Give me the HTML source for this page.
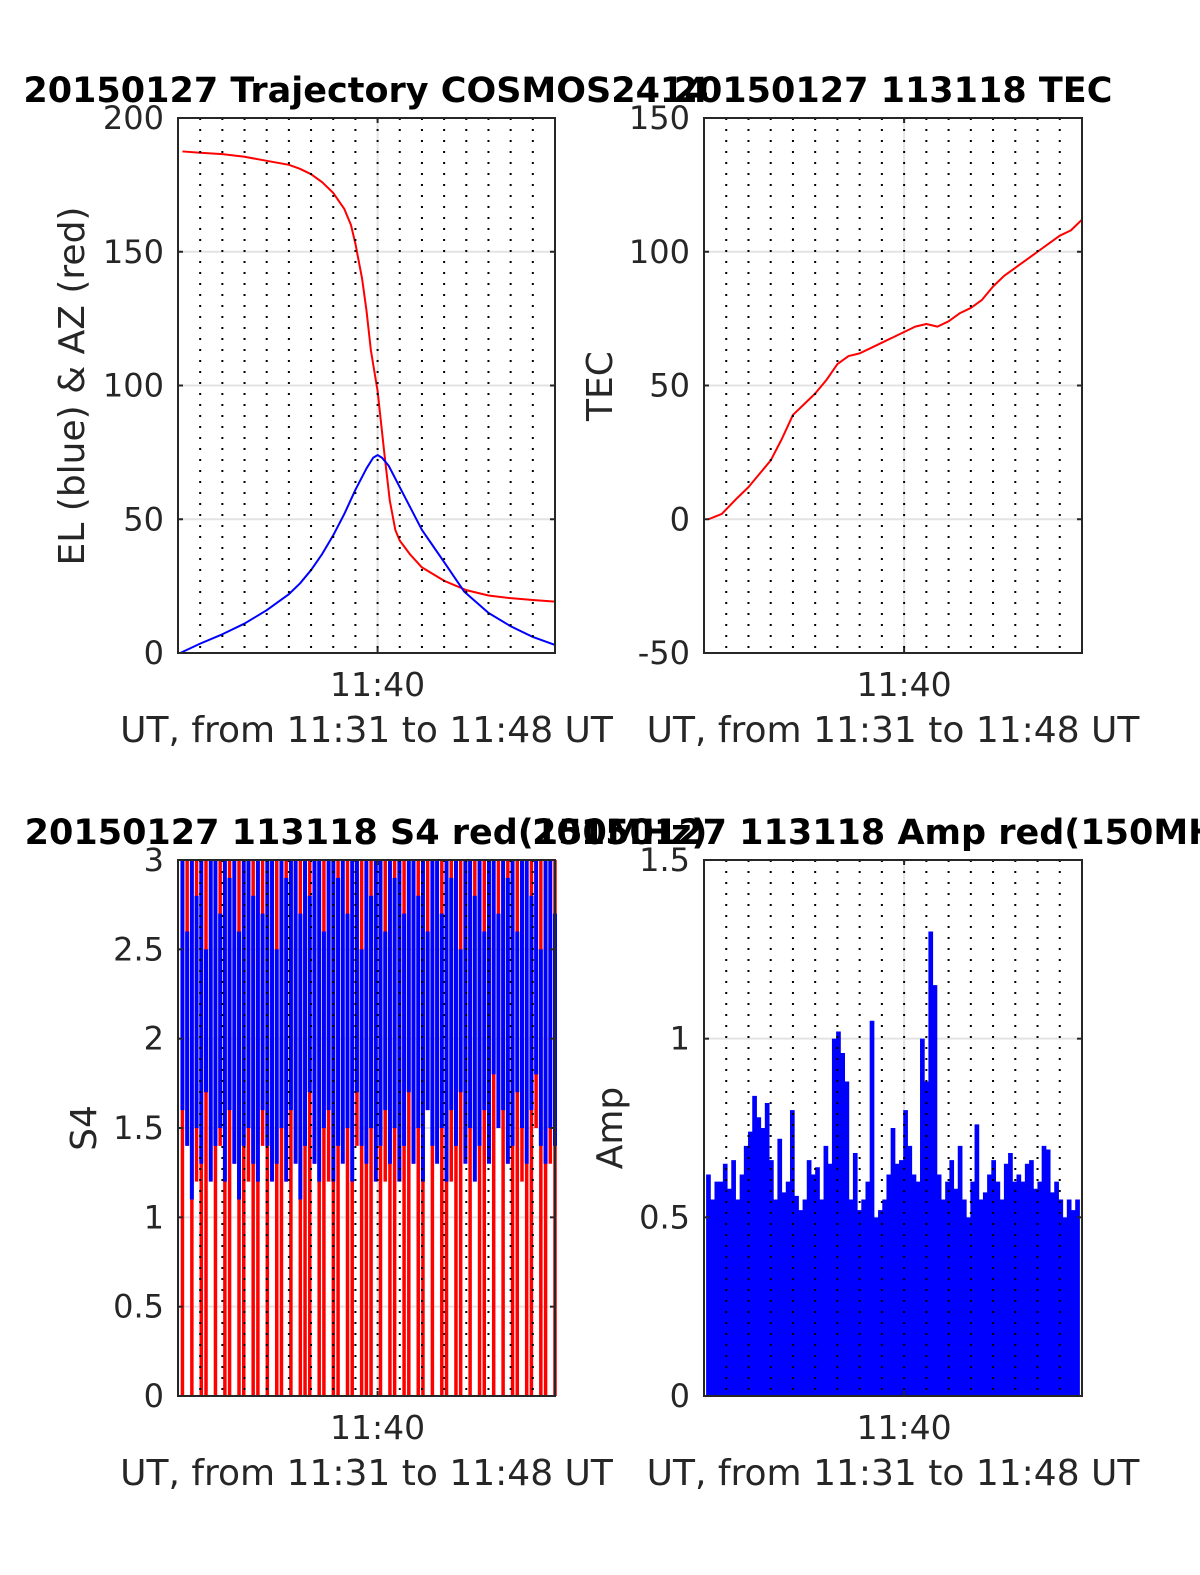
<!DOCTYPE html>
<html><head><meta charset="utf-8"><style>
html,body{margin:0;padding:0;background:#fff;}
svg{display:block;font-family:"DejaVu Sans","Liberation Sans",sans-serif;}
</style></head><body>
<svg id="fig" width="1200" height="1575" viewBox="0 0 1200 1575" xmlns="http://www.w3.org/2000/svg"></svg>
<script>
// ---- data (time in minutes after 11:31) ----
const azT = [0.2,1,2,3,4,5,5.5,6,6.5,7,7.5,7.8,8,8.3,8.5,8.7,9,9.3,9.55,9.8,10,10.45,11,12,13,14,15,16,17];
const azV = [187.5,187,186.5,185.5,184,182.5,181,179,176,172,166,160,153,140,128,113,98,75,57,46,42,37,32,27,23.5,21.5,20.5,19.8,19.2];
const elT = [0.1,1,2,3,4,5,5.5,6,6.5,7,7.5,8,8.5,8.8,9,9.2,9.5,10,10.5,11,11.5,12,12.9,14,15,16,17];
const elV = [0,3.5,7,11,16,22,26,31,37,44,52,61,69,73,74,73,70,62,54,46,40,34,23,15,10,6,3];
const tecT = [0.2,0.8,1.5,2,2.5,3,3.5,4,4.5,5,5.5,6,6.5,7,7.5,8,8.5,9,9.5,10,10.5,11,11.5,12,12.5,13,13.5,14,14.5,15,15.5,16,16.5,17];
const tecV = [0,2,8,12,17,22,30,39,43,47,52,58,61,62,64,66,68,70,72,73,72,74,77,79,82,87,91,94,97,100,103,106,108,112];
const s4RedLow = [0,1.5,0,1.2,0,0,1.6,0,1.4,0,0,1.3,0,0,1.2,0,0,1.4,0,1.3,0,0,1.2,0,1.5,0,0,0,1.3,0,0,1.2,0,0,1.6,0,0,1.4,0,0,0,1.3,0,1.2,0,0,1.5,0,0,1.3,0,0,1.6,0,1.4,0,0,1.2,0,0,1.5,0,1.3,0,0,1.4,0,1.6,0,1.3,0,0,1.2,0,0,1.5,0,0,1.3,0];
const s4BlueLow = [1.6,1.4,1.1,1.5,1.3,1.7,1.2,1.4,1.5,1.2,1.6,1.3,1.1,1.4,1.5,1.3,1.2,1.6,1.4,1.2,1.3,1.5,1.2,1.6,1.3,1.1,1.4,1.7,1.3,1.2,1.5,1.6,1.2,1.4,1.3,1.5,1.2,1.7,1.4,1.3,1.5,1.2,1.4,1.6,1.3,1.5,1.2,1.4,1.7,1.3,1.5,1.2,1.6,1.4,1.3,1.5,1.2,1.6,1.4,1.7,1.3,1.5,1.2,1.4,1.6,1.3,1.8,1.5,1.6,1.3,1.4,1.7,1.5,1.3,1.6,1.8,1.4,1.3,1.5,1.4];
const s4BlueHigh = [3,2.6,3,2.8,3,2.5,3,3,2.7,3,2.9,3,2.6,3,3,2.8,3,2.7,3,3,2.5,3,2.9,3,3,2.7,3,2.8,3,3,2.6,3,3,2.9,3,2.7,3,3,2.5,3,2.8,3,3,2.6,3,2.9,3,2.7,3,3,2.8,3,2.6,3,3,2.7,3,2.9,3,2.5,3,3,2.8,3,2.6,3,3,2.7,3,2.9,3,2.6,3,3,2.8,3,2.5,3,3,2.7];
const ampV = [0.62,0.55,0.6,0.6,0.65,0.58,0.66,0.55,0.62,0.7,0.74,0.84,0.78,0.75,0.82,0.66,0.55,0.72,0.57,0.6,0.8,0.56,0.52,0.55,0.66,0.62,0.64,0.55,0.7,0.65,1.0,1.02,0.96,0.88,0.55,0.68,0.52,0.55,0.6,1.05,0.5,0.52,0.55,0.62,0.75,0.65,0.66,0.8,0.7,0.62,0.6,1.0,0.88,1.3,1.15,0.62,0.55,0.6,0.66,0.58,0.7,0.55,0.5,0.6,0.76,0.55,0.57,0.62,0.66,0.6,0.55,0.65,0.68,0.6,0.62,0.6,0.65,0.66,0.58,0.6,0.7,0.69,0.57,0.6,0.55,0.5,0.55,0.52,0.55];
const yTicks1 = [0,50,100,150,200];
const yTicks2 = [-50,0,50,100,150];
const yTicks3 = [0,0.5,1,1.5,2,2.5,3];
const yTicks3L = ["0","0.5","1","1.5","2","2.5","3"];
const yTicks4 = [0,0.5,1,1.5];
const yTicks4L = ["0","0.5","1","1.5"];

const NS="http://www.w3.org/2000/svg";
const svg=document.getElementById('fig');
function el(tag,attrs,parent){const e=document.createElementNS(NS,tag);for(const k in attrs)e.setAttribute(k,attrs[k]);(parent||svg).appendChild(e);return e;}

function makeAxes(x0,y0,x1,y1,ymin,ymax){
  return {x0,y0,x1,y1,
    sx:t=>x0+(t/17)*(x1-x0),
    sy:v=>y1-(v-ymin)/(ymax-ymin)*(y1-y0)};
}
function drawFrame(ax,name,ticks,labels,title,titleX,ylabel,ylx,yly,dataFn){
  const g=el('g',{});
  
  
  ticks.forEach(v=>{const y=ax.sy(v);
    el('line',{x1:ax.x0,x2:ax.x1,y1:y,y2:y,stroke:'#e3e3e3','stroke-width':2},g);});
  el('line',{x1:ax.sx(9),x2:ax.sx(9),y1:ax.y0,y2:ax.y1,stroke:'#e3e3e3','stroke-width':2},g);
  const dg=el('g',{},g);
  
  
  dataFn(dg);
  for(let m=1;m<17;m++){const x=ax.sx(m);
    el('line',{x1:x,x2:x,y1:ax.y0,y2:ax.y1,stroke:'#000','stroke-width':2,'stroke-dasharray':'2 9'},g);}
  el('rect',{x:ax.x0,y:ax.y0,width:ax.x1-ax.x0,height:ax.y1-ax.y0,fill:'none',stroke:'#262626','stroke-width':2},g);
  ticks.forEach((v,i)=>{const y=ax.sy(v);
    el('line',{x1:ax.x0,x2:ax.x0+5,y1:y,y2:y,stroke:'#262626','stroke-width':2},g);
    el('line',{x1:ax.x1-5,x2:ax.x1,y1:y,y2:y,stroke:'#262626','stroke-width':2},g);
    const t=el('text',{x:ax.x0-14,y:y+11,'text-anchor':'end','font-size':32,fill:'#262626'},g);
    
    
    t.textContent=labels[i];});
  const xt=ax.sx(9);
  el('line',{x1:xt,x2:xt,y1:ax.y1-5,y2:ax.y1,stroke:'#262626','stroke-width':2},g);
  el('line',{x1:xt,x2:xt,y1:ax.y0,y2:ax.y0+5,stroke:'#262626','stroke-width':2},g);
  const xl=el('text',{x:xt,y:ax.y1+43,'text-anchor':'middle','font-size':33,fill:'#262626'},g);
  
  
  xl.textContent='11:40';
  const xa=el('text',{x:(ax.x0+ax.x1)/2,y:ax.y1+89,'text-anchor':'middle','font-size':36,fill:'#262626'},g);
  
  
  xa.textContent='UT, from 11:31 to 11:48 UT';
  const ya=el('text',{x:0,y:0,'text-anchor':'middle','font-size':36,fill:'#262626',transform:`translate(${ylx},${yly}) rotate(-90)`},g);
  
  
  ya.textContent=ylabel;
  const ti=el('text',{x:titleX,y:ax.y0-16,'text-anchor':'middle','font-size':35,'font-weight':'bold',fill:'#000'},g);
  
  
  ti.textContent=title;
}
function poly(g,ax,T,V,color,w,name){
  const p=el('polyline',{points:T.map((t,i)=>ax.sx(t)+','+ax.sy(V[i])).join(' '),fill:'none',stroke:color,'stroke-width':w,'stroke-linejoin':'round'},g);
  
  
}

// Plot 1
const a1=makeAxes(178,118,555,653,0,200);
drawFrame(a1,'trajectory-chart',yTicks1,yTicks1.map(String),'20150127 Trajectory COSMOS2414',366,'EL (blue) & AZ (red)',84,386,g=>{
  poly(g,a1,azT,azV,'#ff0000',2,'az-line');
  poly(g,a1,elT,elV,'#0000ff',2,'el-line');
});
// Plot 2
const a2=makeAxes(704,118,1082,653,-50,150);
drawFrame(a2,'tec-chart',yTicks2,yTicks2.map(String),'20150127 113118 TEC',893,'TEC',612,386,g=>{
  poly(g,a2,tecT,tecV,'#ff0000',2,'tec-line');
});
// Plot 3
const a3=makeAxes(178,860,555,1396,0,3);
drawFrame(a3,'s4-chart',yTicks3,yTicks3L,'20150127 113118 S4 red(150MHz)',366,'S4',96,1128,g=>{
  const n=s4RedLow.length;
  s4RedLow.forEach((v,i)=>{const x=a3.sx(0.2+i*16.8/(n-1));
    const b=el('line',{x1:x,x2:x,y1:a3.sy(v),y2:a3.y0,stroke:'#ff0000','stroke-width':3.5},g);
    
    });
  const m=s4BlueLow.length;
  s4BlueLow.forEach((v,i)=>{const x=a3.sx(0.2+i*16.8/(m-1));
    const b=el('line',{x1:x,x2:x,y1:a3.sy(v),y2:a3.sy(s4BlueHigh[i]),stroke:'#0000ff','stroke-width':4},g);
    
    });
});
// Plot 4
const a4=makeAxes(704,860,1082,1396,0,1.5);
drawFrame(a4,'amp-chart',yTicks4,yTicks4L,'20150127 113118 Amp red(150MHz)',893,'Amp',622,1128,g=>{
  const n=ampV.length;
  const w=(a4.sx(16.8)-a4.sx(0.2))/(n-1)+0.5;
  ampV.forEach((v,i)=>{const x=a4.sx(0.2+i*16.6/(n-1));
    const b=el('line',{x1:x,x2:x,y1:a4.sy(v),y2:a4.y1,stroke:'#0000ff','stroke-width':w},g);
    
    });
});
</script>
</body></html>
